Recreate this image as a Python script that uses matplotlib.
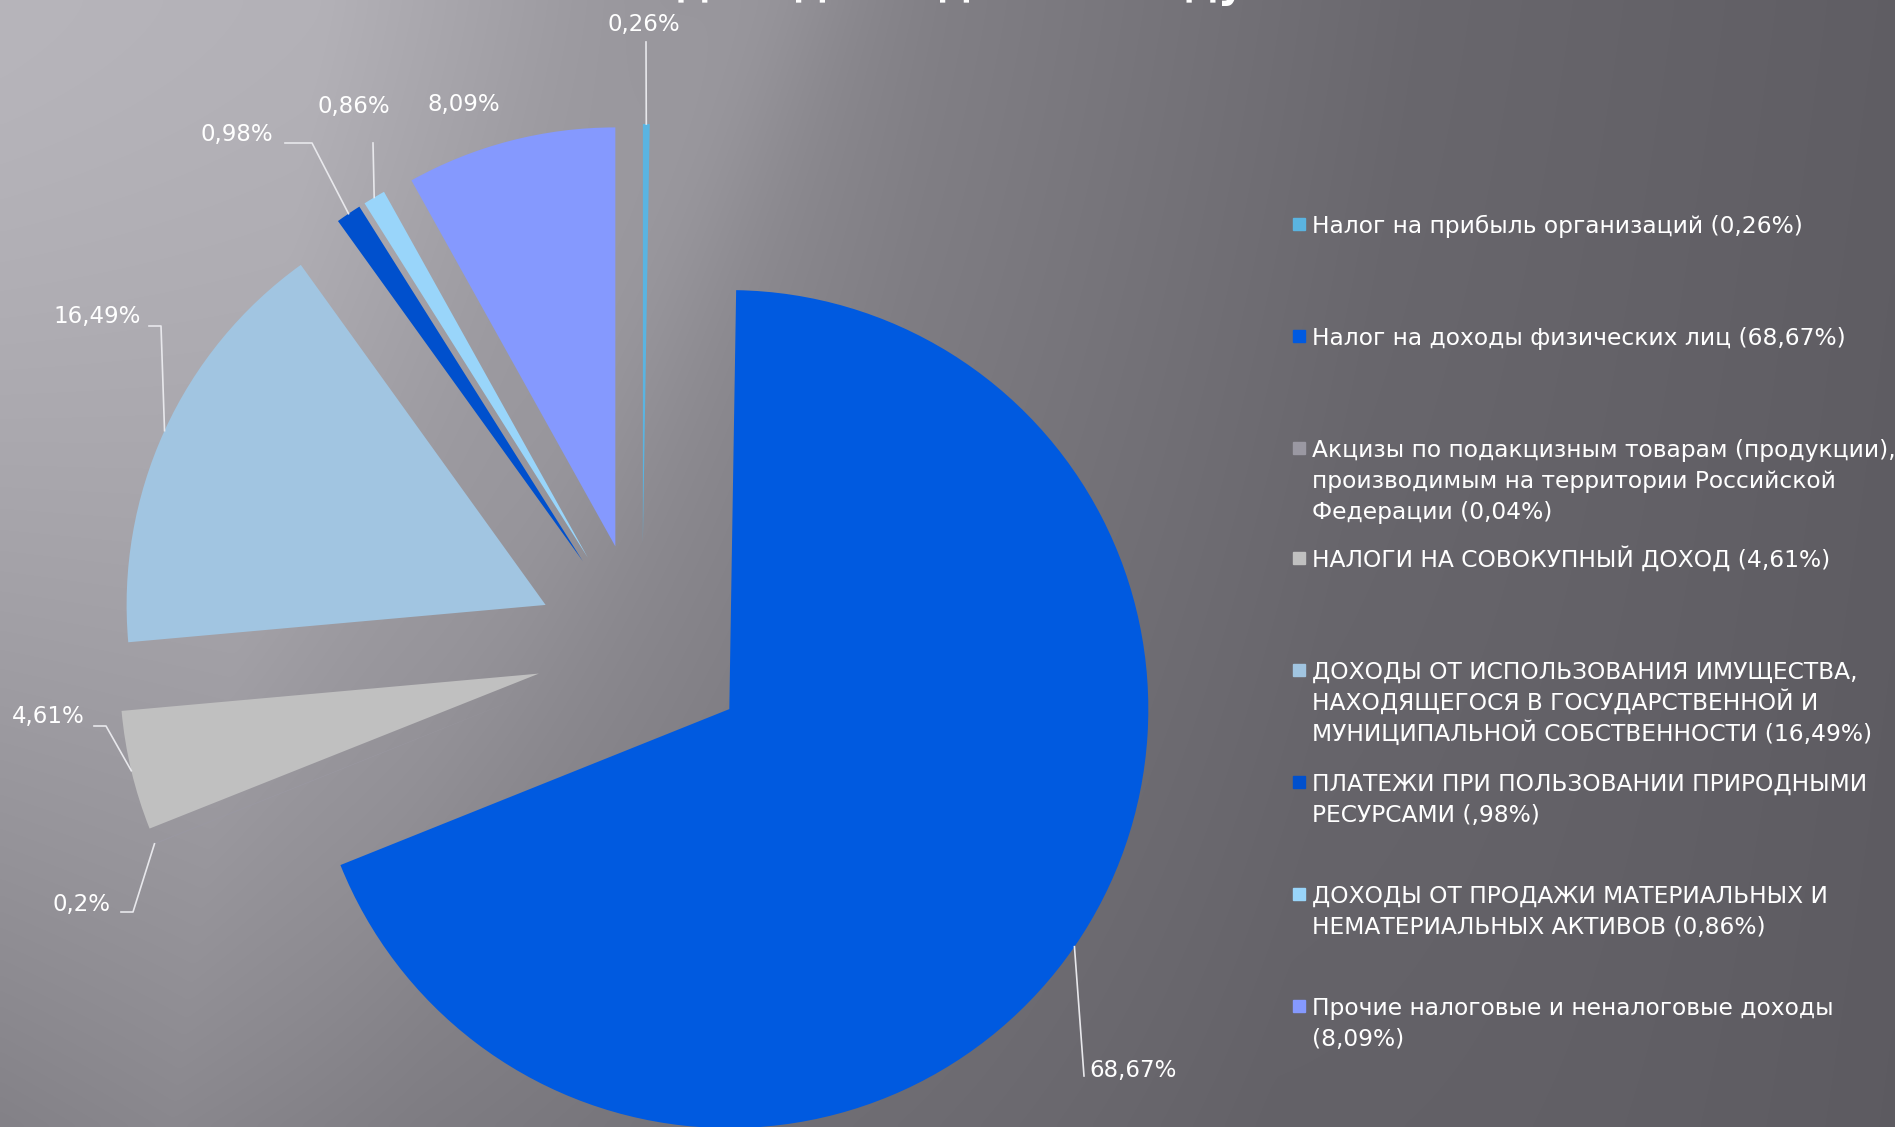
import numpy as np
import matplotlib
matplotlib.use("Agg")
import matplotlib.pyplot as plt
import matplotlib.patches as mpatches

# data
values = [0.26, 68.67, 0.04, 4.61, 16.49, 0.98, 0.86, 8.09]
pct_labels = ["0,26%", "68,67%", "0,2%", "4,61%", "16,49%", "0,98%", "0,86%", "8,09%"]
legend_labels = [
    "Налог на прибыль организаций (0,26%)",
    "Налог на доходы физических лиц (68,67%)",
    "Акцизы по подакцизным товарам (продукции),\nпроизводимым на территории Российской\nФедерации (0,04%)",
    "НАЛОГИ НА СОВОКУПНЫЙ ДОХОД (4,61%)",
    "ДОХОДЫ ОТ ИСПОЛЬЗОВАНИЯ ИМУЩЕСТВА,\nНАХОДЯЩЕГОСЯ В ГОСУДАРСТВЕННОЙ И\nМУНИЦИПАЛЬНОЙ СОБСТВЕННОСТИ (16,49%)",
    "ПЛАТЕЖИ ПРИ ПОЛЬЗОВАНИИ ПРИРОДНЫМИ\nРЕСУРСАМИ (,98%)",
    "ДОХОДЫ ОТ ПРОДАЖИ МАТЕРИАЛЬНЫХ И\nНЕМАТЕРИАЛЬНЫХ АКТИВОВ (0,86%)",
    "Прочие налоговые и неналоговые доходы\n(8,09%)",
]
colors = ["#5AB4E1", "#005AE0", "#9A98A2", "#C0C0C0",
          "#A1C5E1", "#0050CD", "#99D5FA", "#8599FE"]

W, H = 1895, 1127
FONT = "DejaVu Sans"

fig = plt.figure(figsize=(W / 100, H / 100), dpi=100)
ax = fig.add_axes([0, 0, 1, 1])

# background: light left part, dark right
xx, yy = np.meshgrid(np.linspace(0, 1, 400), np.linspace(0, 1, 240))
lum = np.interp(xx + 0.08 * yy, [0, 0.17, 0.3, 0.5, 0.75, 1.1],
                [184, 180, 158, 130, 106, 93])
lum -= 50 * yy ** 1.5 * (1 - xx) ** 2
lum += 8 * np.exp(-((xx - 0.40 + 0.25 * yy) / 0.05) ** 2) * (1 - yy)
bg = np.dstack([lum - 1, lum - 3, lum + 3]) / 255.0
ax.imshow(np.clip(bg, 0, 1), extent=(0, W, H, 0), aspect="auto",
          interpolation="bicubic", zorder=0)

# pie (image coordinates, y pointing down)
R = 419
center = (642, 649)
wedges, _ = ax.pie(values, colors=colors, radius=R, center=center,
                   explode=[106] * len(values), startangle=-90,
                   counterclock=True, wedgeprops=dict(linewidth=0))
for w in wedges:
    w.set_zorder(2)

ax.set_xlim(0, W)
ax.set_ylim(H, 0)
ax.set_aspect("auto")
ax.axis("off")

# percentage labels: text position and leader elbow (None = no line)
label_pos = [(644, 24), (1133, 1070), (81, 904), (48, 717),
             (97, 317), (237, 134), (354, 106), (464, 104)]
elbows = [(646, 42), (1084, 1076), (121, 912), (94, 726),
          (149, 326), (285, 143), (373, 143), None]
ends = [None, None, (133, 912), (106, 726), (161, 326), (312, 143), None, None]

for w, txt, pos, el, en in zip(wedges, pct_labels, label_pos, elbows, ends):
    ax.text(pos[0], pos[1], txt, color="white", fontsize=16.5, family=FONT,
            ha="center", va="center", zorder=4)
    if el is None:
        continue
    th = np.deg2rad((w.theta1 + w.theta2) / 2)
    px = w.center[0] + w.r * np.cos(th)
    py = w.center[1] + w.r * np.sin(th)
    xs = [el[0]] + ([en[0]] if en else []) + [px]
    ys = [el[1]] + ([en[1]] if en else []) + [py]
    ax.plot(xs, ys, color="#E8E8EC", lw=1.2, zorder=3)

# legend: one row per entry, lines at a fixed pitch
line_h = 31.4
for i, (lab, col) in enumerate(zip(legend_labels, colors)):
    y = 224 + 112 * i - (2 if i >= 3 else 0)
    ax.add_patch(mpatches.Rectangle((1293, y - 6), 12, 12, color=col, zorder=3))
    for k, line in enumerate(lab.split("\n")):
        ax.text(1312, y + 8.5 + k * line_h, line, color="white", fontsize=16.8,
                family=FONT, ha="left", va="baseline", zorder=4)

# title line (almost entirely above the slide edge)
ax.text(961, -3, "доходов в данном году", color="white",
        fontsize=30, fontweight="bold", family=FONT,
        ha="center", va="baseline", zorder=4)

fig.savefig("out.png", dpi=100)
